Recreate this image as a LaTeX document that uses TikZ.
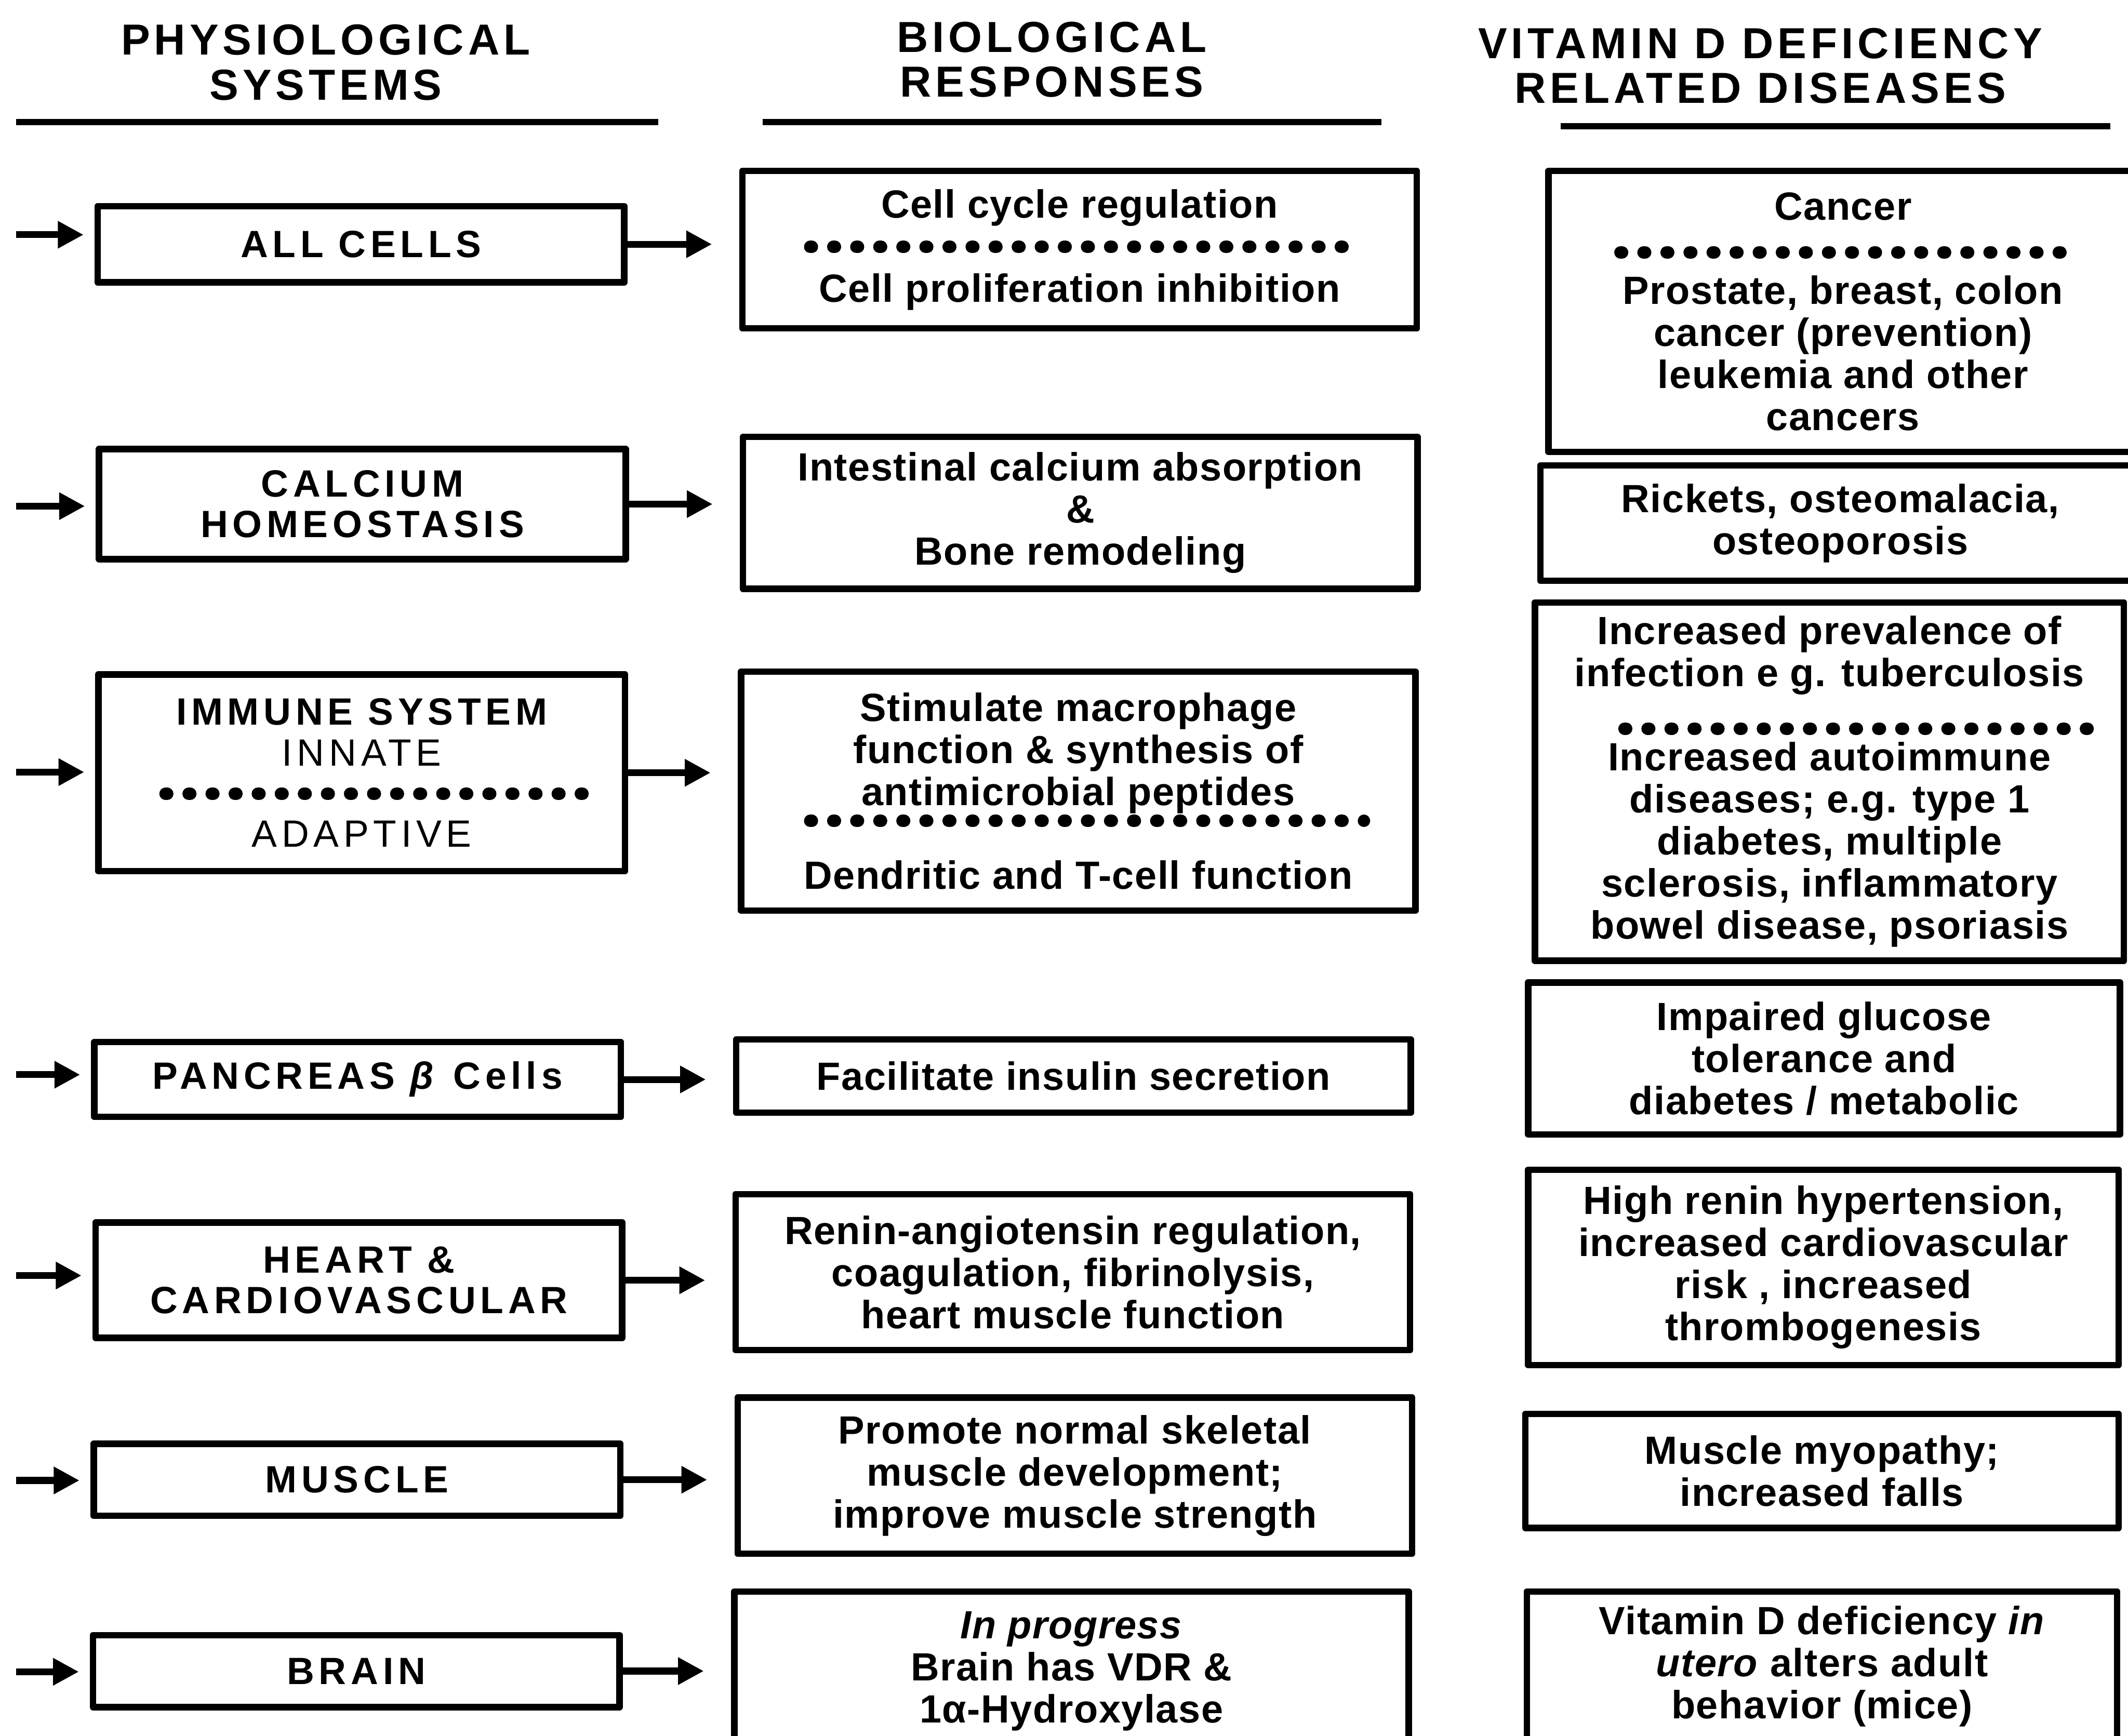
\documentclass[tikz,border=0pt]{standalone}
\usepackage{fontspec}
\setmainfont{Liberation Sans}[LetterSpace=2]
\newfontfamily\capsfont{Liberation Sans}[LetterSpace=12]
\newfontfamily\headfont{Liberation Sans}[LetterSpace=9.5]
\usetikzlibrary{arrows.meta}
\tikzset{
 box/.style={draw,line width=2.4pt,inner sep=0pt,align=center,font=\bfseries\fontsize{14.5}{15.5}\selectfont},
 sysbox/.style={box,minimum width=194pt,font=\capsfont\bfseries\fontsize{14}{15}\selectfont},
 resbox/.style={box,minimum width=248.5pt},
 head/.style={align=center,font=\headfont\bfseries\fontsize{16}{16.5}\selectfont},
 arr/.style={line width=2.5pt,-{Triangle[length=9.5pt,width=9.5pt]}},
 dotline/.style={line width=4.6pt,line cap=round,dash pattern=on 0.6pt off 7.9pt}
}
\begin{document}
\begin{tikzpicture}[x=0.5pt,y=-0.5pt,line join=round]
 \useasboundingbox (0,0) rectangle (1568,1279);
 \clip (0,0) rectangle (1568,1279);
 \node[head] (hsys) at (240,46) {PHYSIOLOGICAL\\SYSTEMS};
 \node[head] (hres) at (775,44) {BIOLOGICAL\\RESPONSES};
 \node[head] (hdis) at (1297,48.5) {VITAMIN D DEFICIENCY\\RELATED DISEASES};
 \draw[line width=2.2pt] (12,90)--(485,90) (562,90)--(1018,90) (1150,93)--(1555,93);
 % physiological systems
 \node[sysbox,minimum height=28pt] (cells) at (266,180) {ALL CELLS};
 \node[sysbox,minimum height=40.5pt] (calc) at (267,371.5) {CALCIUM\\HOMEOSTASIS};
 \node[sysbox,minimum height=72.5pt] (imm) at (266.5,569.5) {IMMUNE SYSTEM\\{\mdseries INNATE}\\[15pt]{\mdseries ADAPTIVE}};
 \node[sysbox,minimum height=27.5pt] (panc) at (263.5,795.5) {PANCREAS \textit{β} Cells};
 \node[sysbox,minimum height=42.5pt] (heart) at (264.5,943.5) {HEART \&\\CARDIOVASCULAR};
 \node[sysbox,minimum height=26.5pt] (musc) at (263,1090.5) {MUSCLE};
 \node[sysbox,minimum height=26.5pt] (brain) at (262.5,1231.5) {BRAIN};
 % biological responses
 \node[resbox,minimum height=58pt] (cycle) at (795.5,184) {Cell cycle regulation\\[15.5pt]Cell proliferation inhibition};
 \node[resbox,minimum height=56pt] (absorb) at (796,378) {Intestinal calcium absorption\\\&\\Bone remodeling};
 \node[resbox,minimum height=88pt] (macro) at (794.5,583) {Stimulate macrophage\\function \& synthesis of\\antimicrobial peptides\\[15.5pt]Dendritic and T-cell function};
 \node[resbox,minimum height=27pt] (insul) at (791,793) {Facilitate insulin secretion};
 \node[resbox,minimum height=57.5pt] (renin) at (790.5,937.5) {Renin-angiotensin regulation,\\coagulation, fibrinolysis,\\heart muscle function};
 \node[resbox,minimum height=57.5pt] (skel) at (792,1087.5) {Promote normal skeletal\\muscle development;\\improve muscle strength};
 \node[resbox,minimum height=58.5pt] (vdr) at (789.5,1231.5) {\textit{In progress}\\Brain has VDR \&\\1α-Hydroxylase};
 % deficiency related diseases
 \node[box,minimum width=217pt,minimum height=103.5pt] (cancer) at (1358,229.5) {Cancer\\[15.5pt]Prostate, breast, colon\\cancer (prevention)\\leukemia and other\\cancers};
 \node[box,minimum width=221pt,minimum height=42.5pt] (rick) at (1356,385.5) {Rickets, osteomalacia,\\osteoporosis};
 \node[box,minimum width=217pt,minimum height=132pt] (infec) at (1348,576) {Increased prevalence of\\infection e g. tuberculosis\\[15.5pt]Increased autoimmune\\diseases; e.g. type 1\\diabetes, multiple\\sclerosis, inflammatory\\bowel disease, psoriasis};
 \node[box,minimum width=218pt,minimum height=56pt] (gluc) at (1344,780) {Impaired glucose\\tolerance and\\diabetes / metabolic};
 \node[box,minimum width=217.5pt,minimum height=72pt] (hyper) at (1343.5,934) {High renin hypertension,\\increased cardiovascular\\risk , increased\\thrombogenesis};
 \node[box,minimum width=218.5pt,minimum height=42pt] (myop) at (1342.5,1084) {Muscle myopathy;\\increased falls};
 \node[box,minimum width=217.5pt,minimum height=55pt] (behav) at (1342.5,1228) {Vitamin D deficiency \textit{in}\\\textit{utero} alters adult\\behavior (mice)};
 % dotted separators
 \draw[dotline] (597,182)--(990,182) (1194,186)--(1520,186) (122,585)--(430,585)
  (597,605)--(1005,605) (1197,537)--(1540,537);
 % arrows
 \coordinate (i1) at (12,173); \coordinate (i2) at (12,373);
 \coordinate (i3) at (12,569); \coordinate (i4) at (12,792);
 \coordinate (i5) at (12,940); \coordinate (i6) at (12,1091);
 \coordinate (i7) at (12,1232);
 \foreach \i/\s in {i1/cells,i2/calc,i3/imm,i4/panc,i5/heart,i6/musc,i7/brain}
  \draw[arr,shorten >=4pt] (\i) -- (\i -| \s.west);
 \foreach \s/\r in {cells/cycle,calc/absorb,imm/macro,panc/insul,heart/renin,musc/skel,brain/vdr}
  \draw[arr,shorten >=10pt] (\s.east) -- (\s.east -| \r.west);
\end{tikzpicture}
\end{document}
